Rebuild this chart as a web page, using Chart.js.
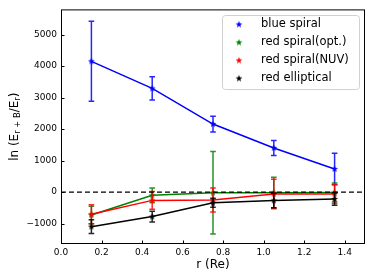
<!DOCTYPE html>
<html>
<head>
<meta charset="utf-8">
<script src="https://cdn.jsdelivr.net/npm/chart.js@4"></script>
<style>
  body { margin: 0; background: #fff; }
  canvas { display: block; }
</style>
</head>
<body>
<canvas id="chart" width="374" height="280"></canvas>
<script>
// ---- data ----
const radii = [0.15, 0.45, 0.75, 1.05, 1.35];
const seriesNames = ['blue spiral', 'red spiral(opt.)', 'red spiral(NUV)', 'red elliptical'];
const seriesColors = ['#0000ff', '#008000', '#ff0000', '#000000'];

const blueSpiral = [4150, 3290, 2160, 1400, 730];
const blueSpiralErr = [1270, 370, 250, 240, 500];
const redSpiralOpt = [-730, -105, -20, -20, -15];
const redSpiralOptErr = [280, 230, 1310, 490, 300];
const redSpiralNuv = [-705, -265, -250, -60, -60];
const redSpiralNuvErr = [300, 280, 380, 470, 300];
const redElliptical = [-1100, -780, -340, -270, -220];
const redEllipticalErr = [220, 170, 140, 230, 200];

const xTicks = [0.0, 0.2, 0.4, 0.6, 0.8, 1.0, 1.2, 1.4];
const yTicks = [-1000, 0, 1000, 2000, 3000, 4000, 5000];

const seriesValues = [blueSpiral, redSpiralOpt, redSpiralNuv, redElliptical];
const seriesErrors = [blueSpiralErr, redSpiralOptErr, redSpiralNuvErr, redEllipticalErr];

const FONT = '"DejaVu Sans", sans-serif';

// filled 5-point star like matplotlib's '*' marker
function makeStar(color, r) {
    const size = Math.ceil(r * 2 + 2);
    const c = document.createElement('canvas');
    c.width = size; c.height = size;
    const g = c.getContext('2d');
    const cx = size / 2, cy = size / 2;
    g.beginPath();
    for (let i = 0; i < 10; i++) {
        const rad = i % 2 === 0 ? r : r * 0.4;
        const a = -Math.PI / 2 + i * Math.PI / 5;
        const px = cx + rad * Math.cos(a), py = cy + rad * Math.sin(a);
        if (i === 0) g.moveTo(px, py); else g.lineTo(px, py);
    }
    g.closePath();
    g.fillStyle = color;
    g.fill();
    return c;
}

const stars = seriesColors.map(c => makeStar(c, 3.6));

const datasets = seriesNames.map((name, i) => ({
    label: name,
    data: radii.map((x, j) => ({ x: x, y: seriesValues[i][j] })),
    errors: seriesErrors[i],
    borderColor: seriesColors[i],
    backgroundColor: seriesColors[i],
    borderWidth: 1.5,
    pointStyle: stars[i],
    pointRadius: 4,
    tension: 0,
    order: seriesNames.length - 1 - i
}));

// error bars, drawn right after each dataset's line
const errorBars = {
    id: 'errorBars',
    afterDatasetDraw(chart, args) {
        const ds = chart.data.datasets[args.index];
        const ctx = chart.ctx;
        const xs = chart.scales.x, ys = chart.scales.y;
        ctx.save();
        ctx.strokeStyle = ds.borderColor;
        ctx.globalAlpha = 0.85;
        ctx.lineWidth = 1.5;
        ds.data.forEach((p, j) => {
            const e = ds.errors[j];
            const px = xs.getPixelForValue(p.x);
            const top = ys.getPixelForValue(p.y + e);
            const bot = ys.getPixelForValue(p.y - e);
            ctx.beginPath();
            ctx.moveTo(px, top); ctx.lineTo(px, bot);
            ctx.moveTo(px - 2.8, top); ctx.lineTo(px + 2.8, top);
            ctx.moveTo(px - 2.8, bot); ctx.lineTo(px + 2.8, bot);
            ctx.stroke();
        });
        ctx.restore();
    }
};

// zero line, frame, inward ticks, axis titles, legend
const decorations = {
    id: 'decorations',
    afterDatasetsDraw(chart) {
        const ctx = chart.ctx;
        const a = chart.chartArea;
        const xs = chart.scales.x, ys = chart.scales.y;
        ctx.save();

        // dashed zero line
        const y0 = ys.getPixelForValue(0);
        ctx.strokeStyle = '#000';
        ctx.lineWidth = 1.3;
        ctx.setLineDash([5, 3]);
        ctx.beginPath();
        ctx.moveTo(a.left, y0); ctx.lineTo(a.right, y0);
        ctx.stroke();
        ctx.setLineDash([]);

        // frame
        ctx.lineWidth = 1;
        ctx.strokeStyle = '#000';
        ctx.strokeRect(a.left + 0.5, a.top + 0.5, a.right - a.left - 1, a.bottom - a.top - 1);

        // ticks pointing inward
        ctx.beginPath();
        xTicks.forEach(v => {
            const px = Math.round(xs.getPixelForValue(v)) + 0.5;
            ctx.moveTo(px, a.bottom); ctx.lineTo(px, a.bottom - 3.5);
        });
        yTicks.forEach(v => {
            const py = Math.round(ys.getPixelForValue(v)) + 0.5;
            ctx.moveTo(a.left, py); ctx.lineTo(a.left + 3.5, py);
        });
        ctx.stroke();

        // x title
        ctx.fillStyle = '#000';
        ctx.font = '12px ' + FONT;
        ctx.textAlign = 'center';
        ctx.textBaseline = 'middle';
        ctx.fillText('r (Re)', (a.left + a.right) / 2, 265);

        // y title with subscripts: ln (E_{r+B}/E_r)
        const parts = [
            ['ln (E', false], ['r + B', true], ['/E', false], ['r', true], [')', false]
        ];
        const big = '12px ' + FONT, small = '8.4px ' + FONT;
        let total = 0;
        parts.forEach(p => { ctx.font = p[1] ? small : big; total += ctx.measureText(p[0]).width; });
        ctx.translate(15, (a.top + a.bottom) / 2);
        ctx.rotate(-Math.PI / 2);
        ctx.textAlign = 'left';
        ctx.textBaseline = 'middle';
        let cx = -total / 2;
        parts.forEach(p => {
            ctx.font = p[1] ? small : big;
            ctx.fillText(p[0], cx, p[1] ? 3 : 0);
            cx += ctx.measureText(p[0]).width;
        });
        ctx.restore();

        // legend box
        ctx.save();
        const lx = 222, ly = 15, lw = 137, lh = 74;
        ctx.beginPath();
        ctx.roundRect(lx + 0.5, ly + 0.5, lw, lh, 3);
        ctx.fillStyle = 'rgba(255,255,255,0.8)';
        ctx.fill();
        ctx.strokeStyle = '#d0d0d0';
        ctx.lineWidth = 1;
        ctx.stroke();
        ctx.font = '11.5px ' + FONT;
        ctx.textAlign = 'left';
        ctx.textBaseline = 'middle';
        ctx.fillStyle = '#000';
        seriesNames.forEach((name, i) => {
            const ry = 24.5 + i * 18;
            const s = stars[i];
            ctx.drawImage(s, 239 - s.width / 2, ry - s.height / 2);
            ctx.fillText(name, 261, ry);
        });
        ctx.restore();
    }
};

new Chart(document.getElementById('chart'), {
    type: 'line',
    data: { datasets: datasets },
    options: {
        responsive: false,
        animation: false,
        layout: { padding: { top: 8, right: 9, left: 0, bottom: 0 } },
        plugins: {
            legend: { display: false },
            tooltip: { enabled: false }
        },
        scales: {
            x: {
                type: 'linear',
                min: 0,
                max: 1.5,
                grid: { display: false, drawTicks: false },
                border: { display: false },
                afterBuildTicks: s => { s.ticks = xTicks.map(v => ({ value: v })); },
                afterFit: s => { s.height = 36; },
                ticks: {
                    color: '#000',
                    padding: 3,
                    maxRotation: 0,
                    font: { family: FONT, size: 9 },
                    callback: v => v.toFixed(1)
                }
            },
            y: {
                min: -1650,
                max: 5800,
                grid: { display: false, drawTicks: false },
                border: { display: false },
                afterBuildTicks: s => { s.ticks = yTicks.map(v => ({ value: v })); },
                afterFit: s => { s.width = 61; },
                ticks: {
                    color: '#000',
                    padding: 4,
                    font: { family: FONT, size: 9 },
                    callback: v => String(v).replace('-', '\u2212')
                }
            }
        }
    },
    plugins: [errorBars, decorations]
});
</script>
</body>
</html>
